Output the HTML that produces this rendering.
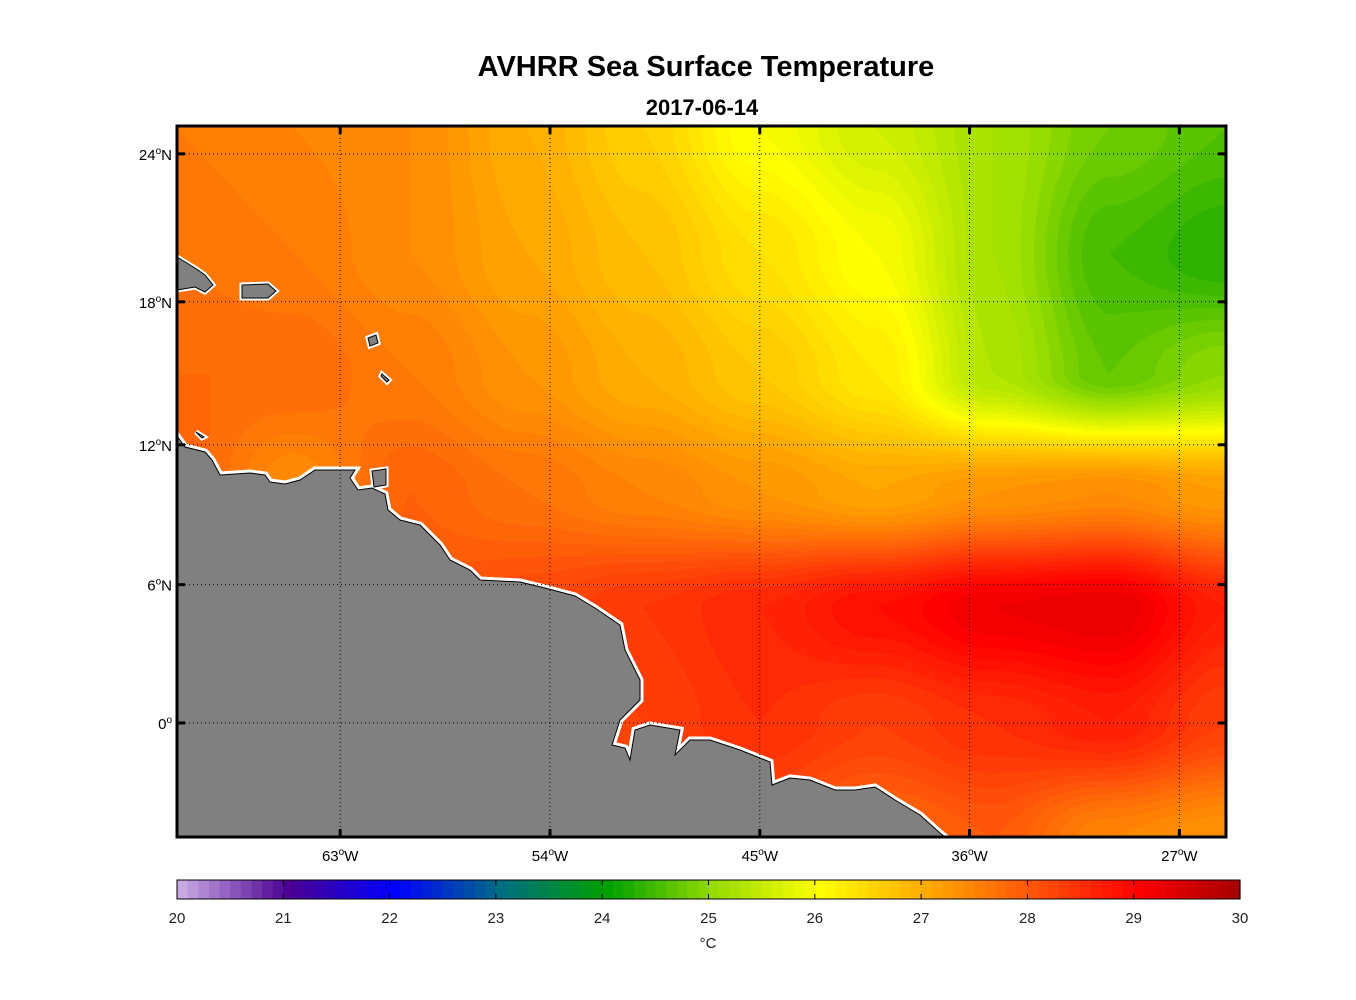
<!DOCTYPE html>
<html><head><meta charset="utf-8">
<style>
html,body{margin:0;padding:0;background:#fff;}
#wrap{position:relative;width:1356px;height:1000px;font-family:"Liberation Sans",Arial,sans-serif;}
canvas{position:absolute;left:177px;top:126px;}
svg{position:absolute;left:0;top:0;}
</style></head>
<body>
<div id="wrap">
<canvas id="sst" width="1049" height="711"></canvas>
<svg id="ov" width="1356" height="1000"></svg>
</div>
<script>
// ---- data ----
const lons = [70,65,60,55,50,45,40,35,30,25]; // degrees West
const lats = [25,20,15,10,5,0,-5];
const sstRow25 = [27.6,27.5,27.4,27.0,26.6,26.0,25.6,25.2,24.8,24.6];
const sstRow20 = [27.7,27.6,27.4,27.1,26.8,26.4,26.0,25.2,24.5,24.3];
const sstRow15 = [27.8,27.8,27.6,27.3,27.0,26.7,26.3,25.3,24.7,25.0];
const sstRow10 = [27.9,27.4,27.9,27.7,27.5,27.3,27.1,27.3,27.4,27.2];
const sstRow5  = [28.0,28.0,28.0,28.2,28.4,28.6,28.9,29.2,29.3,28.7];
const sstRow0  = [28.0,28.0,28.0,28.0,28.3,28.5,28.3,28.5,28.7,28.3];
const sstRowS5 = [28.0,28.0,28.0,28.0,28.0,28.1,27.8,28.0,27.5,27.3];
const sstGrid = [sstRow25,sstRow20,sstRow15,sstRow10,sstRow5,sstRow0,sstRowS5];
const lonTicks = [63,54,45,36,27];
const latTicks = [24,18,12,6,0];
const cbTicks = [20,21,22,23,24,25,26,27,28,29,30];

// ---- geometry ----
const X0=177,X1=1226,Y0=126,Y1=837;
const lonW=70,lonE=25;
function xOf(lonWest){return X0+(lonW-lonWest)/(lonW-lonE)*(X1-X0);}
function merc(lat){return Math.log(Math.tan(Math.PI/4+lat*Math.PI/360));}
const mT=merc(25.1),mB=merc(-4.95);
function yOf(lat){return Y0+(mT-merc(lat))/(mT-mB)*(Y1-Y0);}

const anchors=[[200,168,228],[75,0,145],[0,0,255],[0,110,130],[0,160,0],[150,220,0],[255,255,0],[255,170,0],[255,85,10],[255,0,0],[160,0,0]];
function cmap(t){
  t=Math.max(20,Math.min(29.999,t));
  const q=Math.floor(t*10)/10;
  const i=Math.floor(q-20), f=q-20-i;
  const a=anchors[i],b=anchors[i+1];
  return [a[0]+(b[0]-a[0])*f,a[1]+(b[1]-a[1])*f,a[2]+(b[2]-a[2])*f];
}
function sample(lonWest,lat){
  let fc=(lonW-lonWest)/5, fr=(25-lat)/5;
  fc=Math.max(0,Math.min(lons.length-1.0001,fc));
  fr=Math.max(0,Math.min(lats.length-1.0001,fr));
  const c=Math.floor(fc),r=Math.floor(fr),u=fc-c,v=fr-r;
  const su=u*u*(3-2*u), sv=v*v*(3-2*v);
  const g=sstGrid;
  return g[r][c]*(1-su)*(1-sv)+g[r][c+1]*su*(1-sv)+g[r+1][c]*(1-su)*sv+g[r+1][c+1]*su*sv;
}
const cv=document.getElementById('sst'),ctx=cv.getContext('2d');
const W=cv.width,H=cv.height,img=ctx.createImageData(W,H);
const latRow=[];
for(let py=0;py<H;py++){
  const m=mT-(py+0.5)/H*(mT-mB);
  latRow.push((2*Math.atan(Math.exp(m))-Math.PI/2)*180/Math.PI);
}
for(let py=0;py<H;py++){for(let px=0;px<W;px++){
  const lw=lonW-(px+0.5)/W*(lonW-lonE);
  const col=cmap(sample(lw,latRow[py]));
  const k=(py*W+px)*4;img.data[k]=col[0];img.data[k+1]=col[1];img.data[k+2]=col[2];img.data[k+3]=255;
}}
ctx.putImageData(img,0,0);

const NS='http://www.w3.org/2000/svg',svg=document.getElementById('ov');
function el(tag,attrs,parent){const e=document.createElementNS(NS,tag);for(const k in attrs)e.setAttribute(k,attrs[k]);(parent||svg).appendChild(e);return e;}

const landD="M177,436 L185,447 L205,452 L212,460 L220,475 L250,473 L265,475 L270,482 L285,484 L300,480 L315,470 L355,470 L350,478 L358,490 L372,488 L385,494 L388,510 L400,520 L420,525 L440,545 L450,560 L470,570 L480,580 L520,582 L545,588 L575,596 L595,608 L620,625 L625,650 L640,680 L640,700 L620,720 L612,745 L625,748 L630,760 L635,730 L650,725 L680,730 L675,755 L690,740 L710,740 L740,750 L760,758 L770,762 L772,785 L790,778 L810,780 L835,790 L855,790 L875,787 L895,800 L920,815 L940,833 L945,837 L177,837 Z";
const islands=["M177,257 L195,268 L205,275 L213,285 L205,292 L195,287 L177,290 Z","M242,285 L268,284 L276,291 L268,298 L242,298 Z","M372,471 L386,469 L386,485 L374,487 Z","M368,338 L376,335 L378,343 L370,346 Z","M382,374 L389,380 L387,382 L381,376 Z","M196,432 L204,437 L202,438 Z"];
const landG=el('g',{});
el('path',{d:landD,fill:'none',stroke:'#fff','stroke-width':7},landG);
islands.forEach(d=>el('path',{d:d,fill:'none',stroke:'#fff','stroke-width':5},landG));
el('path',{d:landD,fill:'#808080',stroke:'#000','stroke-width':1},landG);
islands.forEach(d=>el('path',{d:d,fill:'#808080',stroke:'#000','stroke-width':1},landG));

const grid=el('g',{});
lonTicks.forEach(l=>{const x=xOf(l);
  el('line',{x1:x,y1:Y0,x2:x,y2:Y1,stroke:'#000','stroke-width':1,'stroke-dasharray':'1,3'},grid);
  el('line',{x1:x,y1:Y0,x2:x,y2:Y0+8,stroke:'#000','stroke-width':3},grid);
  el('line',{x1:x,y1:Y1,x2:x,y2:Y1-8,stroke:'#000','stroke-width':3},grid);
  const t=el('text',{x:x,y:Y1+24,'text-anchor':'middle','font-size':15,fill:'#000'});
  
  t.innerHTML=l+'<tspan dy="-6" font-size="10">o</tspan><tspan dy="6">W</tspan>';
});
latTicks.forEach(l=>{const y=yOf(l);
  el('line',{x1:X0,y1:y,x2:X1,y2:y,stroke:'#000','stroke-width':1,'stroke-dasharray':'1,3'},grid);
  el('line',{x1:X0,y1:y,x2:X0+8,y2:y,stroke:'#000','stroke-width':3},grid);
  el('line',{x1:X1,y1:y,x2:X1-8,y2:y,stroke:'#000','stroke-width':3},grid);
  const t=el('text',{x:X0-5,y:y+6,'text-anchor':'end','font-size':15,fill:'#000'});
  
  t.innerHTML=l+'<tspan dy="-6" font-size="10">o</tspan>'+(l!==0?'<tspan dy="6">N</tspan>':'');
});
el('rect',{x:X0,y:Y0,width:X1-X0,height:Y1-Y0,fill:'none',stroke:'#000','stroke-width':3,});

const t1=el('text',{x:706,y:76,'text-anchor':'middle','font-size':29,'font-weight':'bold',});t1.textContent='AVHRR Sea Surface Temperature';
const t2=el('text',{x:702,y:115,'text-anchor':'middle','font-size':22,'font-weight':'bold',});t2.textContent='2017-06-14';

const CB0=177,CB1=1240,CBy=880,CBh=19;
const cb=el('g',{});
function cbx(t){return CB0+(t-20)/10*(CB1-CB0);}
for(let i=0;i<100;i++){const t=20+i/10+0.05,c=cmap(t);
  el('rect',{x:cbx(20+i/10),y:CBy,width:(CB1-CB0)/100+0.6,height:CBh,fill:`rgb(${c[0]|0},${c[1]|0},${c[2]|0})`},cb);}
el('rect',{x:CB0,y:CBy,width:CB1-CB0,height:CBh,fill:'none',stroke:'#000','stroke-width':1},cb);
cbTicks.forEach(v=>{const x=cbx(v);
  el('line',{x1:x,y1:CBy+CBh,x2:x,y2:CBy+CBh-5,stroke:'#000'},cb);
  el('line',{x1:x,y1:CBy,x2:x,y2:CBy+5,stroke:'#000'},cb);
  const t=el('text',{x:x,y:923,'text-anchor':'middle','font-size':15,fill:'#222'},cb);
  
  t.textContent=v;});
const u=el('text',{x:708,y:948,'text-anchor':'middle','font-size':15,fill:'#222',});u.textContent='°C';
</script>
</body></html>
